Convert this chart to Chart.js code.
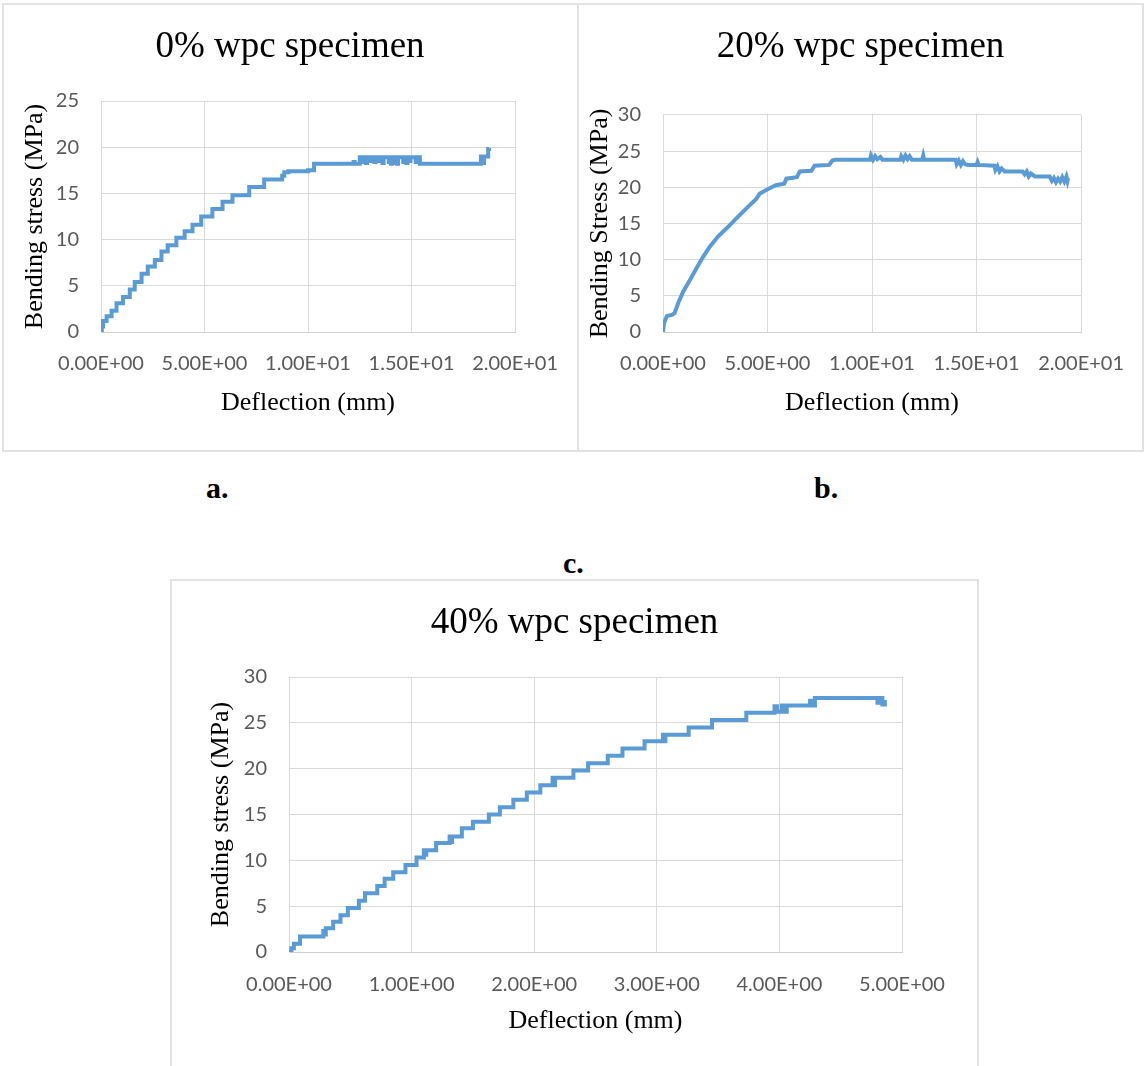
<!DOCTYPE html>
<html>
<head>
<meta charset="utf-8">
<script src="https://cdn.jsdelivr.net/npm/chart.js@4.4.1/dist/chart.umd.min.js"></script>
<style>
  html, body { margin: 0; padding: 0; background: #fff; }
  body { width: 1144px; height: 1066px; position: relative; overflow: hidden; }
  .panel { position: absolute; box-sizing: border-box; border: 2px solid #e2e2e2; }
  canvas { position: absolute; }
  .tag { position: absolute; font: bold 30px "Liberation Serif", "Times New Roman", serif; line-height: 30px; }
</style>
</head>
<body>
<div class="panel" style="left:2px;top:3px;width:577px;height:449px"></div>
<div class="panel" style="left:577px;top:3px;width:567px;height:449px"></div>
<div class="panel" style="left:170px;top:579px;width:809px;height:520px"></div>

<canvas id="chartA" width="576" height="448" style="left:2px;top:3px"></canvas>
<canvas id="chartB" width="567" height="448" style="left:577px;top:3px"></canvas>
<canvas id="chartC" width="809" height="487" style="left:170px;top:579px"></canvas>

<div class="tag" style="left:206px;top:473px">a.</div>
<div class="tag" style="left:814px;top:473px">b.</div>
<div class="tag" style="left:563px;top:548px">c.</div>

<script>
// 0% wpc : deflection (mm) / bending stress (MPa)
const defA = [0, 0.04, 0.10, 0.27, 0.51, 0.75, 1.06, 1.39, 1.63, 1.96, 2.26, 2.60, 2.92, 3.22, 3.64, 4.04, 4.42, 4.84, 5.38, 5.87, 6.35, 7.16, 7.88, 8.75, 8.85, 9.05, 10.0, 10.29,
  12.2, 12.25, 12.5, 12.6, 12.65, 12.8, 12.85, 13.0, 13.05, 13.2, 13.25, 13.4, 13.45, 13.6, 13.65, 13.9, 13.95, 14.0, 14.05, 14.1, 14.15, 14.2, 14.25, 14.3, 14.35, 14.6, 14.65, 14.75, 14.8, 14.9, 14.95, 15.2, 15.25, 15.4,
  18.35, 18.45, 18.5, 18.7, 18.75];
const stressA = [0, 0.6, 1.2, 1.7, 2.3, 3.1, 3.8, 4.6, 5.4, 6.3, 7.1, 7.8, 8.7, 9.4, 10.2, 10.9, 11.6, 12.5, 13.3, 14.1, 14.8, 15.7, 16.5, 16.9, 17.3, 17.4, 17.5, 18.2,
  18.4, 18.2, 18.9, 18.4, 18.9, 18.3, 18.9, 18.5, 18.9, 18.4, 18.9, 18.5, 18.9, 18.3, 18.9, 18.4, 18.9, 18.2, 18.9, 18.4, 18.9, 18.3, 18.9, 18.2, 18.9, 18.4, 18.9, 18.3, 18.9, 18.5, 18.9, 18.4, 18.9, 18.2,
  19.0, 18.3, 19.0, 19.8, 19.9];

// 20% wpc
const defB = [0, 0.05, 0.18, 0.45, 0.55, 0.73, 0.97, 1.29, 1.60, 1.92, 2.24, 2.63, 3.03, 3.51, 3.99, 4.46, 4.62, 5.05, 5.40, 5.80, 5.90, 6.40, 6.55, 7.10, 7.25, 7.95, 8.10, 8.25, 9.90, 9.95, 10.05, 10.15, 10.25, 10.4, 10.5, 10.6, 11.35, 11.4, 11.5, 11.6, 11.7, 11.8, 11.9, 12.0, 12.4, 12.45, 12.5, 14.0, 14.05, 14.15, 14.25, 14.35, 14.45, 14.6, 15.0, 15.05, 15.1, 15.85, 15.9, 16.0, 16.1, 16.2, 16.35, 17.2, 17.3, 17.4, 17.5, 17.6, 17.8, 18.5, 18.6, 18.7, 18.8, 18.9, 19.0, 19.1, 19.2, 19.3, 19.35, 19.38];
const stressB = [0, 1.2, 2.2, 2.4, 2.6, 4.0, 5.6, 7.2, 8.8, 10.4, 11.8, 13.2, 14.3, 15.7, 17.1, 18.4, 19.1, 19.8, 20.3, 20.5, 21.2, 21.4, 22.2, 22.3, 23.0, 23.1, 23.7, 23.8, 23.8, 24.4, 23.8, 24.3, 23.9, 24.2, 23.8, 23.8, 23.8, 24.3, 23.8, 24.4, 23.9, 24.3, 23.8, 23.8, 23.8, 24.4, 23.8, 23.8, 23.2, 23.7, 23.1, 23.6, 23.2, 23.1, 23.1, 23.5, 23.1, 23.0, 22.4, 22.9, 22.2, 22.6, 22.2, 22.2, 21.8, 22.2, 21.5, 21.9, 21.5, 21.5, 20.9, 21.3, 20.7, 21.2, 20.8, 21.4, 20.8, 21.5, 20.9, 21.3];

// 40% wpc
const defC = [0, 0.02, 0.04, 0.09, 0.28, 0.29, 0.30, 0.36, 0.42, 0.48, 0.57, 0.62, 0.72, 0.78, 0.85, 0.95, 1.04, 1.10, 1.11, 1.12, 1.20, 1.31, 1.32, 1.33, 1.41, 1.50, 1.63, 1.72, 1.83, 1.94, 2.05, 2.15, 2.16, 2.17, 2.32, 2.44, 2.60, 2.72, 2.90, 3.05, 3.06, 3.07, 3.26, 3.45, 3.73, 3.96, 3.98, 4.02, 4.04, 4.06, 4.25, 4.27, 4.29, 4.80, 4.82, 4.84, 4.86];
const stressC = [0, 0.4, 0.9, 1.7, 2.3, 1.9, 2.6, 3.3, 4.0, 4.8, 5.6, 6.4, 7.2, 8.0, 8.7, 9.5, 10.3, 11.1, 10.6, 11.1, 11.9, 12.6, 12.0, 12.6, 13.5, 14.2, 15.0, 15.8, 16.6, 17.4, 18.2, 19.0, 18.2, 19.0, 19.8, 20.6, 21.4, 22.2, 23.0, 23.7, 23.0, 23.7, 24.5, 25.3, 26.1, 26.8, 26.2, 26.9, 26.2, 26.9, 27.4, 26.9, 27.7, 27.2, 27.7, 27.0, 27.5];

const xMaxA = 20, xMaxB = 20, xMaxC = 5;
const yMaxA = 25, yMaxB = 30, yMaxC = 30;

const BLUE = '#5b9bd5';
const GRID = '#d9d9d9';
const GREY = '#595959';
const SERIF = '"Liberation Serif", "Times New Roman", serif';
const SANS = 'Lato, "Open Sans", sans-serif';

// Excel style 0.00E+00
function sci(v) {
  const parts = Number(v).toExponential(2).split('e');
  const e = parseInt(parts[1], 10);
  return parts[0] + 'E' + (e < 0 ? '-' : '+') + String(Math.abs(e)).padStart(2, '0');
}

function build(id, xs, ys, cfg) {
  const pts = xs.map((x, i) => ({x: x, y: ys[i]}));
  return new Chart(document.getElementById(id), {
    type: 'scatter',
    data: {
      datasets: [{
        data: pts,
        showLine: true,
        stepped: cfg.stepped,   // 'before' = flat run first, then the jump
        borderColor: BLUE,
        borderWidth: 4,
        pointRadius: 0,
        fill: false
      }]
    },
    options: {
      responsive: false,
      animation: false,
      devicePixelRatio: 1,
      layout: {padding: {top: 21.8, left: 0, right: 0, bottom: cfg.bottom}},
      plugins: {
        legend: {display: false},
        tooltip: {enabled: false},
        title: {
          display: true,
          text: cfg.title,
          color: '#000',
          font: {family: SERIF, size: 37, weight: 'normal'},
          padding: {top: 0, bottom: cfg.titleGap}
        }
      },
      scales: {
        x: {
          type: 'linear',
          min: 0,
          max: cfg.xMax,
          ticks: {stepSize: cfg.xStep, callback: sci, padding: cfg.tickPad, color: GREY, font: {family: SANS, size: 20}, maxRotation: 0, autoSkip: false},
          grid: {color: GRID, drawTicks: false},
          border: {color: '#cfcfcf'},
          title: {display: true, text: 'Deflection (mm)', color: '#000', font: {family: SERIF, size: 26}, padding: 0},
          afterFit: (s) => { s.height = cfg.xH; }
        },
        y: {
          min: 0,
          max: cfg.yMax,
          ticks: {stepSize: 5, padding: 22, color: GREY, font: {family: SANS, size: 20}},
          grid: {color: GRID, drawTicks: false},
          border: {color: GRID},
          title: {display: true, text: cfg.yTitle, color: '#000', font: {family: SERIF, size: 26}, padding: {top: cfg.yTitlePad, bottom: 0}},
          afterFit: (s) => { s.width = cfg.yW; }
        },
        pad: {
          position: 'right',
          display: true,
          grid: {display: false},
          border: {display: false},
          ticks: {display: false},
          afterFit: (s) => { s.width = cfg.padW; }
        }
      }
    }
  });
}

build('chartA', defA, stressA, {
  title: '0% wpc specimen', yTitle: 'Bending stress (MPa)', stepped: 'before',
  xMax: xMaxA, xStep: 5, yMax: yMaxA,
  yW: 99, padW: 61, xH: 86.6, bottom: 32.4, titleGap: 31.8, yTitlePad: 17.4, tickPad: 20
});

build('chartB', defB, stressB, {
  title: '20% wpc specimen', yTitle: 'Bending Stress (MPa)', stepped: false,
  xMax: xMaxB, xStep: 5, yMax: yMaxB,
  yW: 86, padW: 61, xH: 86.6, bottom: 32.4, titleGap: 45.8, yTitlePad: 7.4, tickPad: 20
});

build('chartC', defC, stressC, {
  title: '40% wpc specimen', yTitle: 'Bending stress (MPa)', stepped: 'before',
  xMax: xMaxC, xStep: 1, yMax: yMaxC,
  yW: 119, padW: 77, xH: 84.6, bottom: 29.4, titleGap: 31.8, yTitlePad: 35.4, tickPad: 21
});
</script>
</body>
</html>
